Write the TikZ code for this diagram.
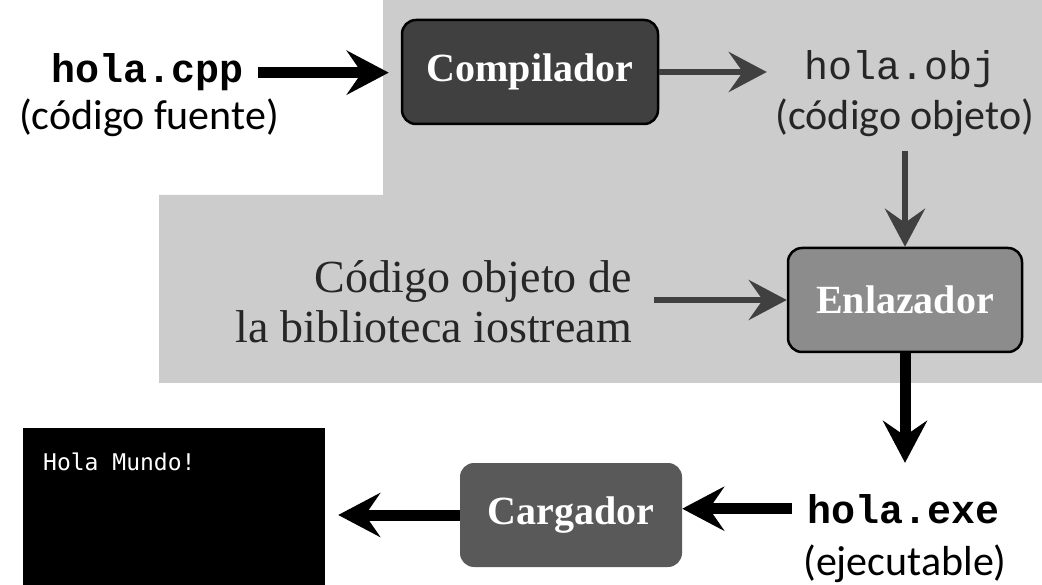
\documentclass[tikz,border=0pt]{standalone}
\usepackage{fontspec}
\newfontfamily\codefont{Liberation Mono}
\newfontfamily\notefont{Carlito}
\newfontfamily\boxfont{Liberation Serif}
\newfontfamily\termfont{DejaVu Sans Mono}
\usetikzlibrary{arrows.meta,positioning}
\definecolor{shadegray}{gray}{0.80}
\tikzset{filename/.style={inner sep=2pt, font=\codefont\bfseries\fontsize{40}{40}\selectfont}}
\tikzset{filenote/.style={inner sep=2pt, font=\notefont\fontsize{42}{42}\selectfont}}
\tikzset{stagebox/.style={rounded corners=14pt, minimum height=104pt, text=white, font=\boxfont\bfseries\fontsize{40}{40}\selectfont}}
\tikzset{bigarrow/.style={line width=11pt, -{Stealth[length=42pt, width=44pt, inset=15pt]}}}
\tikzset{faintarrow/.style={line width=6pt, draw=black!75, -{Stealth[length=38pt, width=40pt, inset=14pt]}}}

\begin{document}
\begin{tikzpicture}[x=1pt, y=-1pt]
\useasboundingbox (0,0) rectangle (1042,585);
% highlighted area
\fill[shadegray] (383,0) -- (1042,0) -- (1042,383) -- (159,383) -- (159,195) -- (383,195) -- cycle;
\node[filename, anchor=base] (cpp) at (148,83) {hola.cpp};
\node[filenote, anchor=base] (cppnote) at (149,130) {(código fuente)};
\node[stagebox, fill=black!75, draw=black, line width=2.5pt, minimum width=256pt] (comp) at (530,72) {Compilador};
\node[filename, anchor=base, font=\codefont\fontsize{40}{40}\selectfont, text=black!85] (obj) at (901,80) {hola.obj};
\node[filenote, anchor=base, text=black!85] (objnote) at (905,130) {(código objeto)};
\node[stagebox, fill=black!45, draw=black, line width=2.5pt, minimum width=234pt] (enl) at (905,300) {Enlazador};
\node[anchor=east, align=right, inner sep=2pt, text=black!85, font=\boxfont\fontsize{46}{50}\selectfont] (lib) at (634,302) {Código objeto de\\la biblioteca iostream};
\node[filename, anchor=base] (exe) at (904,523) {hola.exe};
\node[filenote, anchor=base] (exenote) at (905,575) {(ejecutable)};
\node[stagebox, fill=black!65, minimum width=222pt] (load) at (571,515) {Cargador};
\node[fill=black, minimum width=302pt, minimum height=157pt, inner sep=0pt] (screen) at (174,506.5) {};
\node[anchor=west, inner sep=0pt, text=white, font=\termfont\fontsize{23}{23}\selectfont] (hello) at (43,462) {Hola Mundo!};
% connectors
\draw[bigarrow, shorten <=12pt, shorten >=12pt] (cpp.east) -- (cpp.east -| comp.west);
\draw[faintarrow, shorten >=36pt] (comp.east) -- (comp.east -| obj.west);
\draw[faintarrow, shorten <=12pt] (objnote.south) -- (enl.north);
\draw[faintarrow, shorten <=20pt] (lib.east |- enl.west) -- (enl.west);
\draw[bigarrow, shorten >=29pt] (enl.south) -- (enl.south |- exe.north);
\draw[bigarrow, shorten <=14pt] (exe.west) -- (exe.west -| load.east);
\draw[bigarrow, shorten >=13pt] (load.west) -- (load.west -| screen.east);
\end{tikzpicture}
\end{document}
